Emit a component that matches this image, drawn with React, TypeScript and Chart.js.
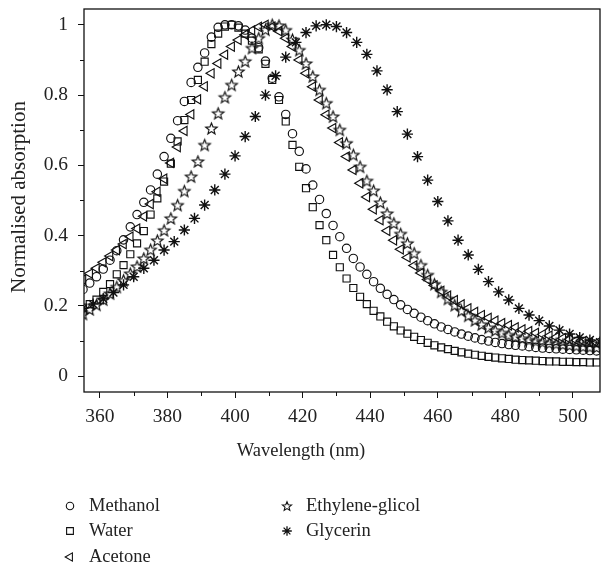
import React, { useEffect, useRef } from 'react';
import { Chart, registerables } from 'chart.js';
import { drawPoint } from 'chart.js/helpers';

Chart.register(...registerables);

const WAVELENGTHS = [
  355, 357, 359, 361, 363, 365, 367, 369, 371, 373,
  375, 377, 379, 381, 383, 385, 387, 389, 391, 393,
  395, 397, 399, 401, 403, 405, 407, 409, 411, 413,
  415, 417, 419, 421, 423, 425, 427, 429, 431, 433,
  435, 437, 439, 441, 443, 445, 447, 449, 451, 453,
  455, 457, 459, 461, 463, 465, 467, 469, 471, 473,
  475, 477, 479, 481, 483, 485, 487, 489, 491, 493,
  495, 497, 499, 501, 503, 505, 507,
];

const METHANOL = [
  0.247, 0.265, 0.283, 0.305, 0.33, 0.357, 0.388, 0.425, 0.46, 0.495,
  0.53, 0.575, 0.625, 0.677, 0.727, 0.782, 0.836, 0.879, 0.92, 0.965,
  0.993, 1.0, 1.0, 0.997, 0.985, 0.962, 0.935, 0.897, 0.848, 0.795,
  0.745, 0.69, 0.64, 0.59, 0.544, 0.503, 0.463, 0.429, 0.397, 0.364,
  0.335, 0.311, 0.29, 0.269, 0.25, 0.233, 0.218, 0.203, 0.19, 0.179,
  0.168, 0.158, 0.149, 0.14, 0.133, 0.126, 0.12, 0.114, 0.109, 0.104,
  0.1, 0.096, 0.093, 0.09, 0.088, 0.086, 0.084, 0.082, 0.08, 0.079,
  0.078, 0.077, 0.076, 0.075, 0.074, 0.073, 0.072,
];

const WATER = [
  0.195, 0.205, 0.218, 0.24, 0.262, 0.29, 0.316, 0.347, 0.378, 0.413,
  0.46, 0.506, 0.554, 0.605, 0.668, 0.729, 0.786, 0.843, 0.895, 0.945,
  0.975, 0.995, 1.0, 0.992, 0.975, 0.955, 0.93, 0.889, 0.843, 0.786,
  0.725, 0.658, 0.596, 0.535, 0.481, 0.43, 0.387, 0.345, 0.31, 0.278,
  0.251, 0.226, 0.205, 0.186, 0.17, 0.155, 0.142, 0.13, 0.121, 0.112,
  0.103, 0.095, 0.088, 0.082, 0.077, 0.072, 0.068, 0.064, 0.061, 0.058,
  0.055, 0.053, 0.051, 0.049, 0.047, 0.046, 0.045, 0.044, 0.043, 0.042,
  0.042, 0.041, 0.041, 0.04, 0.04, 0.039, 0.039,
];

const ACETONE = [
  0.275, 0.292, 0.307, 0.324, 0.342, 0.359, 0.376, 0.397, 0.42, 0.455,
  0.49, 0.525, 0.562, 0.607, 0.652, 0.698, 0.745, 0.788, 0.825, 0.862,
  0.89, 0.915, 0.938, 0.957, 0.972, 0.984, 0.994, 1.0, 0.995, 0.982,
  0.962, 0.938, 0.9, 0.862, 0.824, 0.786, 0.744, 0.706, 0.665, 0.625,
  0.587, 0.549, 0.51, 0.475, 0.444, 0.414, 0.387, 0.361, 0.338, 0.315,
  0.294, 0.275, 0.258, 0.243, 0.229, 0.216, 0.204, 0.193, 0.183, 0.174,
  0.166, 0.158, 0.151, 0.145, 0.139, 0.133, 0.128, 0.123, 0.119, 0.115,
  0.111, 0.108, 0.105, 0.102, 0.099, 0.097, 0.095,
];

const ETHYLENE_GLICOL = [
  0.177, 0.19, 0.203, 0.218, 0.235, 0.254, 0.273, 0.292, 0.312, 0.335,
  0.36, 0.386, 0.415, 0.449, 0.487, 0.527, 0.568, 0.611, 0.658, 0.705,
  0.748, 0.794, 0.829, 0.867, 0.896, 0.934, 0.962, 0.986, 1.0, 0.998,
  0.985, 0.958, 0.928, 0.89, 0.853, 0.815, 0.777, 0.739, 0.701, 0.663,
  0.63, 0.596, 0.556, 0.528, 0.494, 0.463, 0.435, 0.405, 0.378, 0.35,
  0.316, 0.288, 0.262, 0.24, 0.22, 0.202, 0.186, 0.172, 0.159, 0.147,
  0.138, 0.13, 0.123, 0.117, 0.112, 0.107, 0.103, 0.1, 0.097, 0.094,
  0.092, 0.09, 0.088, 0.086, 0.084, 0.083, 0.082,
];

const GLYCERIN_WAVELENGTHS = [
  355, 358, 361, 364, 367, 370, 373, 376, 379, 382,
  385, 388, 391, 394, 397, 400, 403, 406, 409, 412,
  415, 418, 421, 424, 427, 430, 433, 436, 439, 442,
  445, 448, 451, 454, 457, 460, 463, 466, 469, 472,
  475, 478, 481, 484, 487, 490, 493, 496, 499, 502,
  505, 508,
];

const GLYCERIN = [
  0.193, 0.205, 0.22, 0.238, 0.26, 0.283, 0.307, 0.33, 0.359, 0.383,
  0.416, 0.449, 0.487, 0.53, 0.575, 0.627, 0.682, 0.739, 0.8, 0.855,
  0.908, 0.95, 0.978, 0.997, 1.0, 0.995, 0.978, 0.95, 0.916, 0.869,
  0.815, 0.753, 0.689, 0.625, 0.558, 0.497, 0.442, 0.387, 0.345, 0.304,
  0.269, 0.24, 0.217, 0.193, 0.174, 0.158, 0.143, 0.131, 0.12, 0.11,
  0.103, 0.097,
];

const X_TICKS = [360, 380, 400, 420, 440, 460, 480, 500];
const X_MINOR_TICKS = [370, 390, 410, 430, 450, 470, 490];
const Y_TICKS = [0, 0.2, 0.4, 0.6, 0.8, 1];
const Y_TICK_LABELS = ['0', '0.2', '0.4', '0.6', '0.8', '1'];
const Y_MINOR_TICKS = [0.1, 0.3, 0.5, 0.7, 0.9];

const SERIES_NAMES = ['Methanol', 'Water', 'Acetone', 'Ethylene-glicol', 'Glycerin'];
const X_TITLE = 'Wavelength (nm)';
const Y_TITLE = 'Normalised absorption';

const FONT_FAMILY = '"Liberation Serif", "Times New Roman", serif';
const INK = '#111';
const TEXT = '#222';

function makeStar(outer: number, inner: number, lw: number): HTMLCanvasElement {
  const size = Math.ceil(outer * 2 + lw * 2 + 2);
  const c = document.createElement('canvas');
  c.width = size;
  c.height = size;
  const ctx = c.getContext('2d')!;
  const cx = size / 2;
  const cy = size / 2 + 0.5;
  ctx.beginPath();
  for (let i = 0; i < 10; i++) {
    const r = i % 2 === 0 ? outer : inner;
    const a = -Math.PI / 2 + (i * Math.PI) / 5;
    const px = cx + r * Math.cos(a);
    const py = cy + r * Math.sin(a);
    if (i === 0) ctx.moveTo(px, py);
    else ctx.lineTo(px, py);
  }
  ctx.closePath();
  ctx.lineWidth = lw;
  ctx.strokeStyle = INK;
  ctx.stroke();
  return c;
}

export default function App() {
  const ref = useRef<HTMLCanvasElement>(null);

  useEffect(() => {
    Chart.defaults.font.family = FONT_FAMILY;
    Chart.defaults.font.size = 19;
    Chart.defaults.color = TEXT;

    const starImg = makeStar(6, 2.6, 1.15);
    const starLegend = makeStar(4.8, 2.1, 1.1);

    const styles: any[] = [
      { pointStyle: 'circle', radius: 4.2, rotation: 0 },
      { pointStyle: 'rect', radius: 5, rotation: 0 },
      { pointStyle: 'triangle', radius: 5.4, rotation: -90 },
      { pointStyle: starImg, radius: 6, rotation: 0 },
      { pointStyle: 'star', radius: 5.6, rotation: 0 },
    ];
    const legendStyles: any[] = [
      { pointStyle: 'circle', radius: 3.7, rotation: 0 },
      { pointStyle: 'rect', radius: 4.8, rotation: 0 },
      { pointStyle: 'triangle', radius: 4.8, rotation: -90 },
      { pointStyle: starLegend, radius: 4.8, rotation: 0 },
      { pointStyle: 'star', radius: 4.8, rotation: 0 },
    ];

    const seriesX = [WAVELENGTHS, WAVELENGTHS, WAVELENGTHS, WAVELENGTHS, GLYCERIN_WAVELENGTHS];
    const seriesY = [METHANOL, WATER, ACETONE, ETHYLENE_GLICOL, GLYCERIN];

    const datasets = SERIES_NAMES.map((name, k) => ({
      label: name,
      data: seriesX[k].map((x, i) => ({ x, y: seriesY[k][i] })),
      showLine: false,
      pointStyle: styles[k].pointStyle,
      pointRadius: styles[k].radius,
      pointRotation: styles[k].rotation,
      pointBorderColor: INK,
      pointBackgroundColor: 'rgba(0,0,0,0)',
      pointBorderWidth: k === 4 ? 1.4 : 1.15,
      borderColor: INK,
      backgroundColor: 'rgba(0,0,0,0)',
    }));

    const legendPos = [
      { x: 70, y: 506 },
      { x: 70, y: 531 },
      { x: 70, y: 557 },
      { x: 287, y: 506 },
      { x: 287, y: 531 },
    ];

    const decor = {
      id: 'decor',
      afterDraw(chart: any) {
        const { ctx, chartArea: a, scales } = chart;
        const xs = scales.x;
        const ys = scales.y;
        ctx.save();
        ctx.strokeStyle = INK;
        ctx.lineWidth = 1.3;
        ctx.strokeRect(a.left, a.top, a.right - a.left, a.bottom - a.top);
        ctx.lineWidth = 1;
        ctx.beginPath();
        X_MINOR_TICKS.forEach((v) => {
          const px = Math.round(xs.getPixelForValue(v)) + 0.5;
          ctx.moveTo(px, a.bottom);
          ctx.lineTo(px, a.bottom + 4);
        });
        Y_MINOR_TICKS.forEach((v) => {
          const py = Math.round(ys.getPixelForValue(v)) + 0.5;
          ctx.moveTo(a.left - 4, py);
          ctx.lineTo(a.left, py);
        });
        ctx.stroke();

        // axis titles
        ctx.fillStyle = TEXT;
        ctx.textAlign = 'center';
        ctx.textBaseline = 'middle';
        ctx.font = '18.5px ' + FONT_FAMILY;
        ctx.fillText(X_TITLE, 301, 451);
        ctx.save();
        ctx.translate(19, 197);
        ctx.rotate(-Math.PI / 2);
        ctx.font = '21px ' + FONT_FAMILY;
        ctx.fillText(Y_TITLE, 0, 0);
        ctx.restore();

        // legend
        SERIES_NAMES.forEach((name, k) => {
          const p = legendPos[k];
          ctx.strokeStyle = INK;
          ctx.fillStyle = 'rgba(0,0,0,0)';
          ctx.lineWidth = k === 4 ? 1.3 : 1.1;
          drawPoint(ctx, {
            pointStyle: legendStyles[k].pointStyle,
            rotation: legendStyles[k].rotation,
            radius: legendStyles[k].radius,
            borderWidth: k === 4 ? 1.3 : 1.1,
          } as any, p.x, p.y);
          ctx.fillStyle = TEXT;
          ctx.font = '18.5px ' + FONT_FAMILY;
          ctx.textAlign = 'left';
          ctx.textBaseline = 'middle';
          ctx.fillText(name, p.x + 19, p.y);
        });
        ctx.restore();
      },
    };

    const chart = new Chart(ref.current!, {
      type: 'scatter',
      data: { datasets },
      options: {
        animation: false,
        responsive: true,
        maintainAspectRatio: false,
        events: [],
        layout: { autoPadding: false, padding: { top: 9, right: 2, left: 0, bottom: 0 } },
        plugins: {
          legend: { display: false },
          tooltip: { enabled: false },
        },
        scales: {
          x: {
            type: 'linear',
            min: 355.3,
            max: 508,
            afterBuildTicks: (s: any) => {
              s.ticks = X_TICKS.map((v) => ({ value: v }));
            },
            afterFit: (s: any) => {
              s.height = 174;
              s.paddingLeft = 0;
              s.paddingRight = 0;
            },
            grid: {
              display: true,
              drawOnChartArea: false,
              drawTicks: true,
              tickLength: 6,
              tickColor: INK,
              tickWidth: 1,
            },
            border: { display: false },
            ticks: {
              padding: 7,
              color: TEXT,
              maxRotation: 0,
              autoSkip: false,
              font: { size: 19.5 },
              callback: (v: any) => String(v),
            },
            title: { display: false },
          },
          y: {
            type: 'linear',
            min: -0.045,
            max: 1.045,
            afterBuildTicks: (s: any) => {
              s.ticks = Y_TICKS.map((v) => ({ value: v }));
            },
            afterFit: (s: any) => {
              s.width = 84;
              s.paddingTop = 0;
              s.paddingBottom = 0;
            },
            grid: {
              display: true,
              drawOnChartArea: false,
              drawTicks: true,
              tickLength: 6,
              tickColor: INK,
              tickWidth: 1,
            },
            border: { display: false },
            ticks: {
              padding: 10,
              color: TEXT,
              font: { size: 19.5 },
              callback: (v: any) => Y_TICK_LABELS[Y_TICKS.indexOf(v)],
            },
            title: { display: false },
          },
        },
      },
      plugins: [decor],
    } as any);

    return () => chart.destroy();
  }, []);

  return (
    <div style={{ position: 'absolute', left: 0, top: 0, width: 602, height: 566 }}>
      <canvas ref={ref} />
    </div>
  );
}
